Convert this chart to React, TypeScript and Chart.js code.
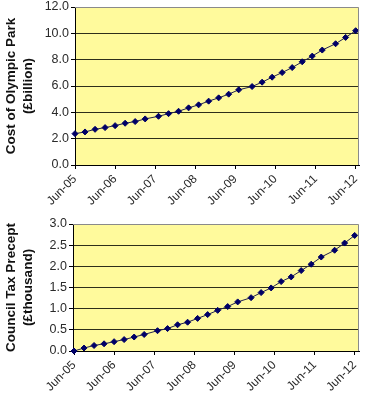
import React, { useEffect, useRef } from 'react';
import { Chart, registerables } from 'chart.js';

Chart.register(...registerables);

// Months after June 2005 for each observation
const monthsFromJun05 = [0, 3, 6, 9, 12, 15, 18, 21, 25, 28, 31, 34, 37, 40, 43, 46, 49, 53, 56, 59, 62, 65, 68, 71, 74, 78, 81, 84];
// Cost of Olympic Park (£billion)
const parkCost = [2.38, 2.51, 2.71, 2.84, 2.99, 3.17, 3.3, 3.5, 3.7, 3.9, 4.08, 4.34, 4.57, 4.85, 5.1, 5.38, 5.71, 5.96, 6.29, 6.67, 7.02, 7.4, 7.84, 8.27, 8.73, 9.21, 9.69, 10.2];
// Council Tax Precept (£thousand)
const taxPrecept = [0.0, 0.07, 0.13, 0.17, 0.22, 0.27, 0.33, 0.39, 0.48, 0.53, 0.62, 0.68, 0.77, 0.86, 0.96, 1.05, 1.16, 1.26, 1.38, 1.49, 1.64, 1.75, 1.9, 2.05, 2.22, 2.38, 2.55, 2.73];
// X-axis ticks
const xTickMonths = [0, 12, 24, 36, 48, 60, 72, 84];
const xTickLabels = ['Jun-05', 'Jun-06', 'Jun-07', 'Jun-08', 'Jun-09', 'Jun-10', 'Jun-11', 'Jun-12'];

const FONT = '"Liberation Sans", Arial, sans-serif';

type PanelProps = {
  values: number[];
  title: string[];
  yMax: number;
  yStep: number;
  xMin: number;
  xMax: number;
  padTop: number;
  padRight: number;
  yWidth: number;
  xHeight: number;
  top: number;
  height: number;
};

const framePlugin = {
  id: 'frame',
  beforeDraw(chart: any) {
    const { ctx, chartArea: a } = chart;
    ctx.save();
    ctx.fillStyle = '#FFFA9C';
    ctx.fillRect(a.left, a.top, a.right - a.left, a.bottom - a.top);
    ctx.restore();
  },
  afterDraw(chart: any) {
    const { ctx, chartArea: a } = chart;
    ctx.save();
    ctx.strokeStyle = '#8a8a8a';
    ctx.lineWidth = 1;
    ctx.beginPath();
    ctx.moveTo(a.left, a.top + 0.5);
    ctx.lineTo(a.right - 0.5, a.top + 0.5);
    ctx.lineTo(a.right - 0.5, a.bottom);
    ctx.stroke();
    ctx.restore();
  },
};

function Panel(p: PanelProps) {
  const ref = useRef<HTMLCanvasElement | null>(null);
  useEffect(() => {
    if (!ref.current) return;
    const chart = new Chart(ref.current, {
      type: 'line',
      data: {
        datasets: [
          {
            data: monthsFromJun05.map((m, i) => ({ x: m, y: p.values[i] })),
            borderColor: '#23234d',
            borderWidth: 1,
            backgroundColor: '#000066',
            pointBackgroundColor: '#000066',
            pointBorderColor: '#000066',
            pointStyle: 'rectRot',
            pointRadius: 3,
            pointBorderWidth: 1,
            tension: 0,
            clip: false as any,
          },
        ],
      },
      options: {
        responsive: false,
        animation: false,
        events: [],
        layout: { padding: { top: p.padTop, right: p.padRight, left: 0, bottom: 0 } },
        plugins: { legend: { display: false }, tooltip: { enabled: false }, title: { display: false } },
        scales: {
          x: {
            type: 'linear',
            min: p.xMin,
            max: p.xMax,
            afterBuildTicks: (scale: any) => {
              scale.ticks = xTickMonths.map((v) => ({ value: v }));
            },
            afterFit: (scale: any) => {
              scale.height = p.xHeight;
              scale.paddingLeft = 0;
              scale.paddingRight = 0;
            },
            ticks: {
              autoSkip: false,
              minRotation: 45,
              maxRotation: 45,
              padding: 3,
              color: '#2a2a2a',
              font: { family: FONT, size: 12 },
              callback: (v: any) => {
                const i = xTickMonths.indexOf(Number(v));
                return i >= 0 ? xTickLabels[i] : '';
              },
            },
            grid: { drawOnChartArea: false, drawTicks: true, tickLength: 4, color: '#000' },
            border: { display: true, color: '#000', width: 1 },
          },
          y: {
            type: 'linear',
            min: 0,
            max: p.yMax,
            afterFit: (scale: any) => {
              scale.width = p.yWidth;
              scale.paddingTop = 0;
              scale.paddingBottom = 0;
            },
            ticks: {
              stepSize: p.yStep,
              padding: 2,
              color: '#2a2a2a',
              font: { family: FONT, size: 12.5 },
              callback: (v: any) => Number(v).toFixed(1),
            },
            grid: {
              color: (c: any) => (c.tick && Math.abs(c.tick.value - p.yMax) < 1e-9 ? 'rgba(0,0,0,0)' : '#2e2e1a'),
              tickColor: '#000',
              tickLength: 4,
              lineWidth: 1,
            },
            border: { display: true, color: '#000', width: 1 },
            title: {
              display: true,
              text: p.title,
              color: '#111',
              font: { family: FONT, size: 13.5, weight: 'bold', lineHeight: 1.25 },
              padding: { top: 3, bottom: 0 },
            },
          },
        },
      },
      plugins: [framePlugin],
    } as any);
    return () => chart.destroy();
  }, []);
  return (
    <canvas
      ref={ref}
      width={370}
      height={p.height}
      style={{ position: 'absolute', left: 0, top: p.top, display: 'block', width: 370, height: p.height }}
    />
  );
}

export default function App() {
  return (
    <div style={{ position: 'fixed', left: 0, top: 0, width: 370, height: 400, background: '#fff' }}>
      <Panel
        values={parkCost}
        title={['Cost of Olympic Park', '(£billion)']}
        yMax={12}
        yStep={2}
        xMin={0}
        xMax={85}
        padTop={7}
        padRight={11}
        yWidth={75}
        xHeight={55}
        top={0}
        height={220}
      />
      <Panel
        values={taxPrecept}
        title={['Council Tax Precept', '(£thousand)']}
        yMax={3}
        yStep={0.5}
        xMin={-0.3}
        xMax={85.3}
        padTop={24}
        padRight={11}
        yWidth={73}
        xHeight={49}
        top={200}
        height={200}
      />
    </div>
  );
}
